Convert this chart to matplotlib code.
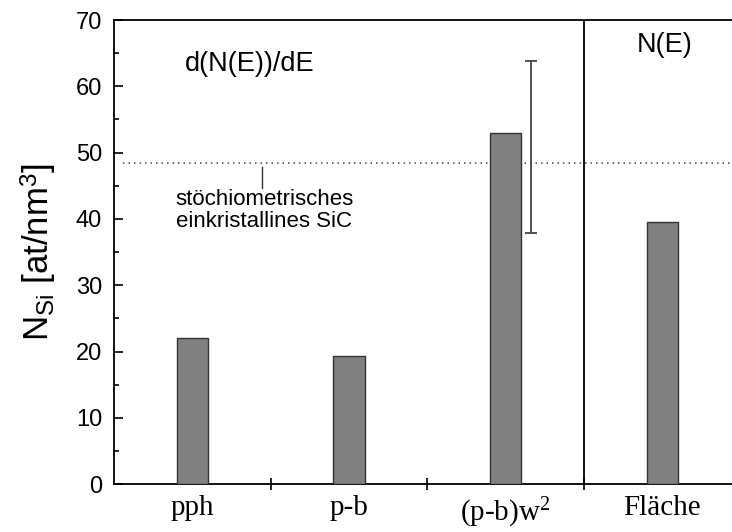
import matplotlib
matplotlib.use("Agg")
import matplotlib.pyplot as plt
import numpy as np

# Data
categories = ["pph", "p-b", "(p-b)w$^{2}$", "Fläche"]
n_si = [22.0, 19.35, 52.9, 39.6]
err_x = 2.163               # error bar drawn beside the (p-b)w^2 bar
err_low, err_high = 37.9, 63.8
sic_reference = 48.4        # stoichiometric single-crystal SiC
y_ticks = [0, 10, 20, 30, 40, 50, 60, 70]

plt.rcParams["font.family"] = ["Liberation Sans", "DejaVu Sans"]
plt.rcParams["mathtext.fontset"] = "custom"
plt.rcParams["mathtext.rm"] = "Liberation Serif"
plt.rcParams["mathtext.it"] = "Liberation Serif:italic"
plt.rcParams["mathtext.sf"] = "Liberation Sans"

fig = plt.figure(figsize=(7.32, 5.32), dpi=100)
ax = fig.add_axes([0.1557, 0.0897, 0.8563, 0.8727])

x = np.arange(len(categories))
ax.bar(x, n_si, width=0.2, color="#808080", edgecolor="#333333", linewidth=1.0, zorder=3)

# error bar
err_mid = (err_low + err_high) / 2
err_half = (err_high - err_low) / 2
ax.errorbar([err_x], [err_mid], yerr=[[err_half], [err_half]], fmt="none",
            ecolor="#444444", elinewidth=1.3, capsize=4, capthick=1.3, zorder=4)

# stoichiometric reference line
ax.plot([-0.44, 3.5], [sic_reference, sic_reference], color="#444444", lw=1.1,
        linestyle=(0, (1, 2.6)), zorder=2)
ax.plot([0.443, 0.443], [44.7, 47.9], color="#333333", lw=1.0)
ax.text(0.46, 42.9, "stöchiometrisches", ha="center", va="center", fontsize=16)
ax.text(0.46, 39.6, "einkristallines SiC", ha="center", va="center", fontsize=16)

# separator between derivative and direct spectra
ax.axvline(2.5, color="black", lw=1.3, zorder=2)
ax.text(0.368, 63.4, "d(N(E))/dE", ha="center", va="center", fontsize=19.5)
ax.text(3.016, 66.3, "N(E)", ha="center", va="center", fontsize=19.5)

ax.set_xlim(-0.5, 3.5)
ax.set_ylim(0, 70)

ax.set_yticks(y_ticks)
ax.set_yticks(np.arange(5, 70, 10), minor=True)
ax.tick_params(axis="y", which="major", direction="in", length=6.5, width=1.2,
               labelsize=17, pad=8.5)
ax.tick_params(axis="y", which="minor", direction="in", length=3.5, width=1.2)

ax.set_xticks([0.5, 1.5, 2.5])
ax.set_xticklabels([])
ax.set_xticks(x, minor=True)
ax.set_xticklabels(categories, minor=True, fontsize=21, family="Liberation Serif")
ax.tick_params(axis="x", which="major", direction="inout", length=8, width=1.2)
ax.tick_params(axis="x", which="minor", length=0, pad=8)

for side in ["left", "bottom", "top", "right"]:
    ax.spines[side].set_linewidth(1.3)

ax.set_ylabel(r"N$_{\mathsf{Si}}$ [at/nm$^{\mathsf{3}}$]", fontsize=25, labelpad=12)

fig.savefig("out.png", dpi=100)
